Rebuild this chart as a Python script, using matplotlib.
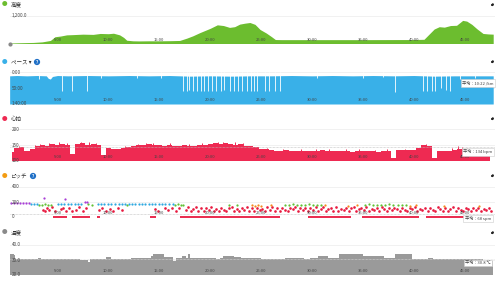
import numpy as np
import matplotlib.pyplot as plt
from matplotlib.patches import FancyArrowPatch
from matplotlib.transforms import blended_transform_factory

plt.rcParams['font.family'] = ['Noto Sans CJK JP', 'DejaVu Sans']

W, H = 500, 281

# x-axis minute ticks
tick_min = [5, 10, 15, 20, 25, 30, 35, 40, 45]
tick_lbl = ['5:00', '10:00', '15:00', '20:00', '25:00', '30:00', '35:00', '40:00', '45:00']

# elevation (m)
elev_t = [0.3, 1, 2, 2.6, 3.5, 4.3, 4.75, 5.3, 5.9, 6.5, 7.5, 8.5, 9.2, 10, 10.5, 11.1, 11.5, 11.8, 12.4, 13,
          14, 15, 16, 17, 17.7, 18.3, 19, 19.5, 20, 20.7, 21.3, 21.9, 22.4, 22.9, 23.4, 23.9, 24.4, 24.9, 25.5, 26,
          26.4, 27, 30, 35, 40, 41, 41.5, 42, 42.5, 43, 43.6, 44.2, 44.8, 45.2, 45.7, 46.2, 46.8, 47.3, 47.8]
elev_v = [20, 30, 40, 45, 70, 130, 290, 320, 370, 380, 400, 390, 430, 420, 440, 370, 260, 140, 115, 110,
          115, 115, 120, 130, 230, 330, 470, 560, 650, 800, 770, 690, 720, 830, 870, 900, 820, 600, 450, 300,
          170, 165, 165, 165, 170, 180, 400, 620, 720, 700, 770, 780, 990, 960, 820, 630, 430, 410, 400]

# pace (min/km)
pace_t = [0.3, 1, 2, 3, 3.9, 4.1, 4.3, 4.5, 5, 6, 8, 10, 12, 14, 16, 17, 18, 20, 22, 24,
          26, 28, 30, 32, 34, 36, 38, 40, 42, 44, 46, 47.8]
pace_v = [12, 11, 12, 11, 12, 20, 22, 14, 11, 12, 11, 12, 11, 12, 11, 12, 13, 12, 13, 12,
          12, 11, 12, 11, 12, 11, 12, 11, 13, 12, 12, 12]
gap_t = [5.4, 6.4, 7.9, 17.3, 17.7, 17.9, 18.3, 18.7, 19.1, 19.4, 19.8, 20.2, 20.6, 21.1, 21.4, 21.9, 22.3,
         22.7, 23.1, 23.6, 24.0, 24.3, 24.6, 25.4, 25.8, 26.4, 26.9, 38.2, 40.9, 41.3, 41.8, 42.1, 42.7, 43.2,
         43.6, 3.2, 9.3, 12.8, 15.2, 30.5, 35.0, 37.0, 44.5, 46.0]
gap_v = [60, 60, 60, 58, 60, 55, 60, 60, 58, 60, 60, 58, 60, 60, 55, 60, 60,
         58, 60, 60, 60, 60, 58, 60, 60, 58, 60, 62, 60, 60, 58, 60, 50, 55,
         60, 22, 20, 18, 20, 20, 18, 16, 22, 20]

# heart rate (bpm), every 0.5 min
hr_t = np.arange(0.5, 48, 0.5)
hr_v = [128, 140, 145, 132, 138, 146, 150, 148, 153, 150,
        154, 151, 122, 152, 155, 150, 153, 149, 118, 140,
        138, 136, 140, 145, 148, 150, 149, 152, 150, 151,
        148, 150, 147, 146, 150, 148, 146, 150, 149, 153,
        155, 152, 156, 153, 150, 152, 148, 147, 144, 138,
        136, 134, 132, 131, 133, 130, 132, 131, 130, 132,
        131, 133, 130, 131, 132, 130, 131, 129, 131, 130,
        132, 131, 129, 131, 130, 108, 133, 134, 133, 135,
        142, 150, 148, 110, 131, 130, 132, 135, 138, 134,
        130, 128, 127, 126, 125]
hr_spk_t = [1.2, 2.8, 3.3, 4.2, 5.1, 5.9, 7.3, 8.1, 8.8, 11.6, 12.9, 13.7, 14.4, 16.1, 17.9, 19.2, 20.8, 21.3,
            22.4, 23.2, 25.6, 27.2, 28.9, 30.4, 31.7, 33.3, 34.6, 36.2, 37.4, 39.1, 40.3, 41.2, 43.8, 44.3,
            44.7, 45.2]
hr_spk_v = [146, 150, 152, 157, 158, 157, 159, 158, 156, 146, 154, 155, 157, 155, 154, 155, 159, 158,
            160, 157, 142, 137, 136, 137, 136, 137, 136, 135, 136, 138, 140, 153, 140, 146,
            144, 141]

# cadence (spm)
purple_t = [0.4, 0.7, 1.0, 1.3, 1.6, 1.9, 2.2, 3.7, 5.7, 7.7, 7.9]
purple_v = [183, 181, 184, 182, 183, 181, 182, 250, 235, 205, 200]
blue_t = [2.4, 2.7, 3.0, 5.0, 5.3, 5.6, 6.0, 6.3, 6.7, 7.0, 7.3, 9.0, 9.3, 9.6, 10.0, 10.3, 10.6, 11.0,
          11.3, 11.6, 12.0, 12.3, 12.6, 13.0, 13.3, 13.6, 14.0, 14.3, 14.6, 15.0, 15.3, 15.6, 16.0, 16.3]
blue_v = [175, 174, 176, 173, 177, 175, 174, 178, 176, 173, 175, 174, 176, 175, 177, 174, 175, 176,
          173, 175, 177, 174, 176, 175, 173, 176, 174, 177, 175, 174, 176, 175, 173, 176]
green_t = [3.2, 3.5, 3.8, 4.1, 4.4, 8.0, 8.4, 11.8, 16.5, 16.8, 17.1, 17.3, 21.8, 22.6, 27.3, 27.7,
           28.1, 28.5, 28.9, 29.3, 29.7, 30.1, 30.5, 30.9, 35.2, 35.6, 36.0, 36.4, 36.8, 37.2, 37.6,
           38.0, 38.4, 38.8, 39.2]
green_v = [165, 163, 167, 164, 166, 168, 164, 166, 165, 167, 164, 166, 165, 163, 166, 164,
           167, 165, 166, 164, 167, 165, 163, 166, 165, 167, 164, 166, 165, 163, 167,
           165, 164, 166, 165]
orange_t = [24.1, 24.4, 24.7, 25.0, 26.0, 31.3, 33.5, 34.4, 39.6, 40.2, 43.0, 46.4]
orange_v = [155, 152, 157, 150, 154, 156, 152, 155, 150, 156, 153, 151]
red_t = [3.6, 3.8, 4.0, 4.2, 4.5, 4.8, 5.3, 5.5, 5.8, 6.1, 6.4, 6.8, 7.1, 7.5, 7.8, 9.1, 9.4, 9.8,
         10.2, 10.5, 10.9, 11.3, 14.6, 14.9, 15.6, 15.9, 16.2, 16.6, 16.9,
         17.6, 17.85, 18.1, 18.35, 18.6, 18.85, 19.1, 19.35, 19.6, 19.85, 20.1, 20.35, 20.6, 20.85,
         21.1, 21.35, 21.6, 21.85, 22.1, 22.35, 22.6, 22.85, 23.1, 23.35, 23.6, 23.85, 24.1, 24.35,
         24.6, 24.85, 25.1, 25.35, 25.6, 25.85, 26.1, 26.35, 26.6, 26.85, 27.1, 27.35, 27.6, 27.85,
         28.1, 28.35, 28.6, 28.85, 29.1, 29.35, 29.6, 29.85, 30.1, 30.35, 30.6, 30.85, 31.1, 31.35,
         31.6, 31.85, 32.1, 32.35, 32.6, 32.85, 33.1, 33.35, 33.6, 33.85, 34.1, 34.35, 34.6, 34.85,
         35.1, 35.35, 35.6, 35.85, 36.1, 36.35, 36.6, 36.85, 37.1, 37.35, 37.6, 37.85, 38.1, 38.35,
         38.6, 38.85, 39.1, 39.35, 39.6, 39.85, 40.1, 40.35, 40.6, 40.85, 41.1, 41.35, 41.6, 41.85,
         42.1, 42.35, 42.6, 42.85, 43.1, 43.35, 43.6, 43.85, 44.1, 44.35, 44.6, 44.85, 45.1, 45.35,
         45.6, 45.85, 46.1, 46.35, 46.6, 46.85, 47.1, 47.35, 47.6]
red_v = [95, 80, 120, 88, 130, 78, 110, 125, 85, 118, 75, 100, 128, 82, 115, 92, 124, 80,
         112, 76, 120, 90, 105, 80, 125, 88, 115, 78, 122,
         88, 128, 78, 112, 132, 84, 118, 76, 126, 96, 130, 82, 110, 75,
         122, 98, 80, 118, 134, 86, 108, 76, 125, 94, 130, 80, 116, 78,
         124, 90, 112, 78, 128, 100, 132, 84, 118, 76, 126, 92, 80, 120,
         102, 130, 78, 114, 88, 126, 76, 118, 96, 128, 82, 110, 134, 80,
         106, 122, 86, 128, 76, 112, 94, 126, 80, 116, 130, 78, 104, 120,
         88, 128, 76, 112, 96, 124, 80, 132, 102, 78, 118, 90, 126, 110,
         76, 124, 100, 84, 120, 106, 130, 78, 112, 90, 126, 80, 118, 98,
         78, 128, 108, 86, 124, 80, 104, 130, 84, 116, 96, 76, 126, 110,
         82, 120, 94, 126, 78, 112, 88, 124, 80]
zero_start = [4.6, 6.4, 8.9, 14.1, 17.0, 24.0, 29.6, 34.9, 41.2]
zero_end = [5.9, 8.2, 9.2, 14.7, 24.0, 26.9, 33.8, 40.5, 45.1]

# temperature (C)
temp_t = [0.3, 0.7, 0.8, 2.9, 3.1, 3.4, 5.7, 7.2, 8.0, 8.2, 9.6, 9.8, 10.3, 11.7, 12.2, 13.3, 14.2,
          14.4, 15.4, 15.5, 16.0, 16.3, 16.6, 17.2, 17.6, 17.8, 18.0, 20.0, 20.6, 21.0, 21.3, 22.3, 23.0,
          24.0, 25.0, 27.3, 29.2, 29.8, 30.6, 31.6, 32.7, 33.8, 35.0, 37.1, 38.2, 39.8, 41.4, 41.9, 46.8,
          47.8]
temp_v = [33.8, 33.5, 30.5, 30.5, 31.5, 30.5, 30.5, 30.0, 28.5, 30.5, 30.5, 32.0, 30.5, 30.5, 31.5, 31.0,
          32.5, 33.8, 33.8, 32.0, 32.0, 29.3, 31.0, 32.5, 31.0, 33.8, 31.5, 31.5, 30.5, 31.5, 32.5, 32.0,
          31.5, 31.5, 30.5, 31.5, 30.5, 31.5, 32.5, 31.5, 34.3, 33.7, 32.5, 31.5, 33.7, 30.5, 31.5, 30.5,
          29.3, 31.5]

avg_hr = 144
avg_cad = 35
avg_temp = 30.8


fig = plt.figure(figsize=(5, 2.81), dpi=100)
XL = ((10 - 6.6) / 10.18, (495 - 6.6) / 10.18)
TXT = '#444444'


def panel(top, bot, ylim, yt, ylab):
    ax = fig.add_axes([10 / W, 1 - bot / H, 485 / W, (bot - top) / H])
    ax.set_xlim(*XL)
    ax.set_ylim(*ylim)
    ax.axis('off')
    for v in yt:
        ax.axhline(v, color='#ebebeb', lw=0.5, zorder=0)
    for v, s in zip(yt, ylab):
        ax.text(0.004, v, s, transform=blended_transform_factory(ax.transAxes, ax.transData),
                fontsize=3.3, color=TXT, va='center', ha='left', zorder=6)
    tr = blended_transform_factory(ax.transData, ax.transAxes)
    for m, s in zip(tick_min, tick_lbl):
        ax.text(m, 0.06, s, transform=tr, fontsize=3.0, color=TXT, ha='center', va='bottom', zorder=6)
    return ax


def title(y, txt, col):
    fig.text(5 / W, 1 - y / H, '●', color=col, fontsize=4, va='center', ha='center')
    fig.text(11 / W, 1 - y / H, txt, color='#333333', fontsize=4, va='center', ha='left')
    # expand icon
    fig.add_artist(FancyArrowPatch((489 / W, 1 - (y + 3) / H), (496 / W, 1 - (y - 3.5) / H),
                                   arrowstyle='<|-|>', mutation_scale=3, lw=0.6, color='#222222',
                                   transform=fig.transFigure))


def avg_box(ax, y, s):
    ax.text(0.965, y, s, transform=blended_transform_factory(ax.transAxes, ax.transData),
            fontsize=3.0, color=TXT, ha='center', va='center', zorder=8,
            bbox=dict(boxstyle='square,pad=0.35', fc='white', ec='#cccccc', lw=0.4))


def help_icon(x, y):
    fig.text(x / W, 1 - y / H, '?', color='white', fontsize=3, fontweight='bold', ha='center', va='center',
             bbox=dict(boxstyle='circle,pad=0.15', fc='#1f6fc6', ec='none'))


# elevation
title(5, '高度', '#6cbd2f')
ax = panel(15.5, 43.5, (0, 1200), [1200], ['1,200.0'])
ax.fill_between(elev_t, elev_v, 0, color='#6cbd2f', lw=0, zorder=2)
ax.plot([elev_t[0]], [0], 'o', ms=2, color='#888888', zorder=4, clip_on=False)

# pace
title(62, 'ペース ▾', '#39b0e8')
help_icon(37, 62)
ax = panel(72, 104, (100, 0), [0, 50, 100], ['0:00', '50:00', '1:40:00'])
ax.fill_between(pace_t, pace_v, 100, color='#39b0e8', lw=0, zorder=2)
ax.vlines(gap_t, 0, gap_v, color='white', lw=0.6, zorder=3)
avg_box(ax, 35, '平均：10:22 /km')

# heart rate
title(119, '心拍', '#ee2a52')
ax = panel(129, 161, (100, 200), [100, 150, 200], ['100', '150', '200'])
ax.fill_between(hr_t, hr_v, 100, step='mid', color='#ee2a52', lw=0, zorder=2)
ax.vlines(hr_spk_t, 100, hr_spk_v, color='#ee2a52', lw=0.7, zorder=2)
ax.axhline(avg_hr, color='#bbbbbb', lw=0.5, ls=(0, (1, 1)), zorder=4)
avg_box(ax, 129, '平均：134 bpm')

# cadence
title(176, 'ピッチ', '#f39c12')
help_icon(33, 176)
ax = panel(187, 217, (0, 400), [0, 200, 400], ['0', '200', '400'])
ax.axhline(avg_cad, color='#bbbbbb', lw=0.5, ls=(0, (1, 1)), zorder=1)
ax.hlines([0] * len(zero_start), zero_start, zero_end, color='#e8193f', lw=1.3, zorder=3, clip_on=False)
ax.scatter(red_t, red_v, s=3.6, color='#e8193f', lw=0, zorder=3)
ax.scatter(orange_t, orange_v, s=2.6, color='#f5891f', lw=0, zorder=3)
ax.scatter(green_t, green_v, s=2.6, color='#62c135', lw=0, zorder=3)
ax.scatter(blue_t, blue_v, s=2.6, color='#2fa8e0', lw=0, zorder=3)
ax.scatter(purple_t, purple_v, s=2.6, color='#a83fd6', lw=0, zorder=3)
avg_box(ax, -20, '平均：68 spm')

# temperature
title(233, '温度', '#8a8a8a')
ax = panel(245, 275, (20, 40), [20, 30, 40], ['20.0', '30.0', '40.0'])
ax.fill_between(temp_t, temp_v, 20, step='post', color='#9a9a9a', lw=0, zorder=2)
ax.axhline(avg_temp, color='#dddddd', lw=0.5, ls=(0, (1, 1)), zorder=4)
avg_box(ax, 28, '平均：30.8 ℃')

fig.savefig('out.png', dpi=100)
